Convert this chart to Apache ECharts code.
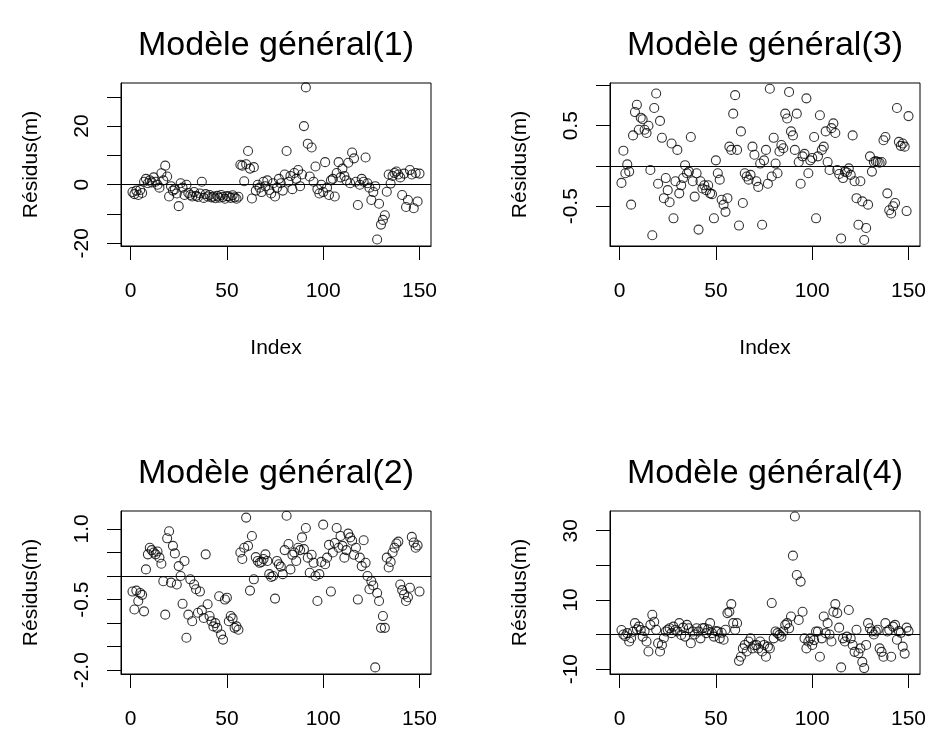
<!DOCTYPE html>
<html>
<head>
<meta charset="utf-8">
<title>Modèle général</title>
<script src="https://cdn.jsdelivr.net/npm/echarts@6/dist/echarts.min.js"></script>
<style>
html, body { margin: 0; padding: 0; background: #fff; }
#main { width: 927px; height: 731px; }
</style>
</head>
<body>
<div id="main"></div>
<script>
// résidus, index 1..150
var residus1 = [
    -2.5, -3.2, -2.0, -3.5, -1.8, -2.8, 1.0, 2.0, 0.5, 1.5,
    0.8, 2.5, 1.0, 0.0, -1.0, 3.9, 1.5, 6.5, 2.8, -4.0,
    -0.5, -2.0, -1.5, -3.0, -7.3, 0.5, -1.0, -3.5, 0.0, -2.8,
    -3.5, -4.0, -2.5, -3.8, -4.2, -3.0, 1.0, -4.5, -3.2, -4.0,
    -3.5, -4.3, -4.0, -4.6, -3.8, -4.4, -3.5, -4.2, -4.8, -3.9,
    -4.0, -4.5, -3.6, -4.3, -4.8, -4.1, 6.8, 6.5, 1.2, 7.0,
    11.5, 5.5, -4.7, 6.0, -2.0, 0.0, -1.0, -2.5, 1.0, -0.5,
    1.5, -1.8, -3.0, 0.5, -4.0, -1.0, 2.0, 0.5, -2.0, 3.5,
    11.5, 1.0, 3.0, -1.5, 4.0, 2.0, 5.0, -0.5, 3.5, 20.0,
    33.2, 14.0, 2.8, 12.7, 1.0, 6.2, -1.5, -3.0, 0.0, -2.5,
    7.7, -1.0, -3.5, 1.5, 2.0, -4.0, 4.0, 7.7, 2.5, 5.5,
    3.0, 1.5, 7.5, 0.5, 11.0, 9.0, 1.0, -6.9, 0.0, 2.0,
    1.0, 9.3, 0.5, -1.0, -5.2, -2.5, -0.5, -18.7, -6.5, -13.6,
    -12.0, -10.4, -2.4, 3.5, 0.4, 3.0, 4.0, 4.5, 3.5, 2.5,
    -3.5, 3.8, -7.6, -5.2, 5.0, 3.5, -8.0, 4.0, -5.7, 3.8
];
var residus2 = [
    -0.33, -0.71, -0.31, -0.53, -0.36, -0.40, -0.75, 0.14, 0.46, 0.60,
    0.55, 0.50, 0.46, 0.52, 0.39, 0.26, -0.11, -0.82, 0.80, 0.95,
    -0.14, 0.64, 0.48, -0.18, 0.21, 0.00, -0.59, 0.32, -1.31, -0.82,
    -0.07, -0.96, -0.18, -0.28, -0.78, -0.33, -0.73, -0.89, 0.46, -0.60,
    -0.85, -0.96, -1.07, -1.00, -1.10, -0.43, -1.24, -1.35, -0.50, -0.46,
    -0.96, -0.85, -0.90, -1.10, -1.07, -1.14, 0.50, 0.36, 0.60, 1.24,
    0.64, -0.31, 0.85, -0.07, 0.40, 0.32, 0.28, 0.30, 0.36, 0.46,
    0.32, 0.04, -0.02, 0.00, -0.48, 0.32, 0.25, 0.20, 0.04, 0.55,
    1.28, 0.68, 0.14, 0.45, 0.50, 0.32, 0.60, 0.55, 0.82, 0.57,
    1.02, 0.39, 0.07, 0.45, 0.28, 0.00, -0.53, 0.04, 0.30, 1.09,
    0.25, 0.39, 0.66, -0.33, 0.50, 0.70, 1.02, 0.60, 0.85, 0.64,
    0.39, 0.55, 0.90, 0.82, 0.75, 0.45, 0.60, -0.50, 0.39, 0.21,
    0.76, 0.28, 0.00, -0.28, -0.11, -0.20, -1.94, -0.36, -0.53, -1.10,
    -0.85, -1.10, 0.39, 0.18, 0.30, 0.50, 0.60, 0.69, 0.73, -0.18,
    -0.30, -0.39, -0.53, -0.45, -0.25, 0.83, 0.71, 0.60, 0.65, -0.33
];
var residus3 = [
    -0.21, 0.19, -0.09, 0.02, -0.07, -0.48, 0.38, 0.67, 0.76, 0.45,
    0.60, 0.58, 0.45, 0.41, 0.50, -0.05, -0.86, 0.72, 0.90, -0.22,
    0.56, 0.35, -0.40, -0.15, -0.30, -0.45, 0.28, -0.65, -0.19, 0.20,
    -0.34, -0.24, -0.15, 0.01, -0.09, -0.07, 0.36, -0.19, -0.38, -0.09,
    -0.79, -0.19, -0.28, -0.24, -0.30, -0.24, -0.34, -0.35, -0.65, 0.07,
    -0.09, -0.17, -0.42, -0.48, -0.57, -0.40, 0.24, 0.20, 0.65, 0.88,
    0.20, -0.74, 0.43, -0.46, -0.09, -0.13, -0.17, -0.11, 0.24, 0.14,
    -0.19, -0.26, 0.03, -0.73, 0.07, 0.20, -0.22, 0.96, -0.13, 0.35,
    0.03, -0.09, 0.18, 0.26, 0.22, 0.65, 0.59, 0.92, 0.43, 0.38,
    0.20, 0.65, 0.05, -0.22, 0.12, 0.15, 0.84, -0.09, 0.07, 0.10,
    0.36, -0.65, 0.12, 0.63, 0.20, 0.24, 0.43, 0.05, -0.05, 0.47,
    0.53, 0.41, -0.05, -0.10, -0.90, -0.15, -0.07, -0.08, -0.03, -0.11,
    0.38, -0.19, -0.40, -0.73, -0.19, -0.44, -0.92, -0.77, -0.48, 0.12,
    -0.07, 0.05, 0.06, 0.05, 0.04, 0.05, 0.32, 0.36, -0.34, -0.55,
    -0.59, -0.50, -0.46, 0.72, 0.30, 0.25, 0.28, 0.24, -0.56, 0.62
];
var residus4 = [
    1.3, 0.0, -0.5, 0.4, -2.0, -1.0, 0.8, 3.3, 1.5, 2.3,
    1.3, -0.6, 1.0, -2.0, -4.9, 2.8, 5.7, 3.7, 1.4, -2.5,
    -4.9, -3.0, -1.0, 0.9, 1.4, 1.8, 0.4, 2.3, 1.4, 0.9,
    3.3, -0.1, 2.0, -0.6, 2.8, 1.8, -2.5, 0.9, 0.0, 1.8,
    0.9, -1.1, 1.8, 1.9, 0.4, 1.5, 3.3, 0.4, -0.6, 1.0,
    0.9, -1.1, 0.5, -1.5, 1.4, 6.2, 6.6, 8.8, 3.3, 1.4,
    3.3, -7.6, -6.4, -4.0, -3.0, -4.9, -2.0, -1.1, -4.0, -3.1,
    -3.0, -4.0, -2.0, -4.9, -3.0, -6.4, -3.5, -4.0, 9.1, -1.1,
    0.9, 0.4, -0.1, -0.6, 0.9, 2.8, 3.3, 1.8, 5.2, 22.8,
    34.1, 17.2, 4.2, 15.3, 6.6, -1.1, -4.0, -2.0, -1.1, -3.0,
    -1.6, 0.9, 0.9, -6.4, -1.1, 5.2, 0.4, 3.3, 0.0, -2.0,
    6.6, 8.8, 6.2, 2.0, -9.5, -1.1, -2.0, -0.6, 7.1, -1.1,
    -3.0, -5.0, 1.4, -5.4, -4.0, -7.9, -9.7, -3.0, 3.3, 1.8,
    0.9, 0.0, 0.9, 1.4, -4.0, -5.0, -6.4, 3.3, 0.9, 1.4,
    -6.4, 2.3, 2.8, -1.5, 1.0, 0.5, -3.5, -5.5, 2.0, 1.0
];

var titres = ['Modèle général(1)', 'Modèle général(3)', 'Modèle général(2)', 'Modèle général(4)'];
var xTicks = [0, 50, 100, 150];
var yTicks1 = [-20, -10, 0, 10, 20, 30];
var yLabels1 = [-20, 0, 20];
var yTicks3 = [-0.5, 0, 0.5, 1.0];
var yLabels3 = [-0.5, 0.5];
var yTicks2 = [-2.0, -1.5, -1.0, -0.5, 0, 0.5, 1.0];
var yLabels2 = [-2.0, -0.5, 1.0];
var yTicks4 = [-10, 0, 10, 20, 30];
var yLabels4 = [-10, 10, 30];

var chart = echarts.init(document.getElementById('main'));
var police = 'Liberation Sans, Arial, sans-serif';

// ordre des panneaux : haut-gauche, haut-droite, bas-gauche, bas-droite
var panneaux = [
    { data: residus1, ticks: yTicks1, labels: yLabels1, min: -20.9, max: 34.7, dec: 0, left: 121, top: 83, index: true },
    { data: residus3, ticks: yTicks3, labels: yLabels3, min: -0.994, max: 1.031, dec: 1, left: 610, top: 83, index: true },
    { data: residus2, ticks: yTicks2, labels: yLabels2, min: -2.08, max: 1.38, dec: 1, left: 121, top: 511, index: false },
    { data: residus4, ticks: yTicks4, labels: yLabels4, min: -11.4, max: 35.7, dec: 0, left: 610, top: 511, index: false }
];

var grids = [], xAxes = [], yAxes = [], series = [], titles = [];

panneaux.forEach(function (p, k) {
    grids.push({
        left: p.left, top: p.top, width: 310, height: 163,
        show: true, borderColor: '#000', borderWidth: 1,
        backgroundColor: 'transparent', outerBoundsMode: 'none'
    });
    titles.push({
        text: titres[k],
        left: p.left + 155, top: p.top - 54,
        textAlign: 'center', textVerticalAlign: 'top', padding: 0,
        textStyle: { fontSize: 34, fontWeight: 'normal', color: '#000', fontFamily: police }
    });
    xAxes.push({
        type: 'value', gridIndex: k, min: -4.96, max: 155.96,
        position: 'bottom',
        axisLine: { show: true, onZero: false, lineStyle: { color: '#000', width: 1 } },
        axisTick: { show: true, inside: false, length: 14, customValues: xTicks, lineStyle: { color: '#000', width: 1 } },
        axisLabel: { customValues: xTicks, margin: 35, color: '#000', fontSize: 21, fontFamily: police },
        splitLine: { show: false },
        name: p.index ? 'Index' : '',
        nameLocation: 'middle', nameGap: 92,
        nameTextStyle: { color: '#000', fontSize: 21, fontFamily: police }
    });
    yAxes.push({
        type: 'value', gridIndex: k, min: p.min, max: p.max,
        position: 'left',
        axisLine: { show: true, onZero: false, lineStyle: { color: '#000', width: 1 } },
        axisTick: { show: true, inside: false, length: 14, customValues: p.ticks, lineStyle: { color: '#000', width: 1 } },
        axisLabel: {
            customValues: p.labels, rotate: 90, margin: 28, color: '#000', fontSize: 21, fontFamily: police,
            formatter: function (v) { return v.toFixed(p.dec); }
        },
        splitLine: { show: false },
        name: 'Résidus(m)', nameLocation: 'middle', nameRotate: 90, nameGap: 79,
        nameTextStyle: { color: '#000', fontSize: 21, fontFamily: police }
    });
    series.push({
        type: 'scatter', xAxisIndex: k, yAxisIndex: k,
        data: p.data.map(function (v, i) { return [i + 1, v]; }),
        symbol: 'circle', symbolSize: 9,
        itemStyle: { color: 'rgba(0,0,0,0)', borderColor: '#000', borderWidth: 1.1 },
        emphasis: { disabled: true },
        markLine: {
            silent: true, symbol: 'none',
            label: { show: false },
            lineStyle: { color: '#000', width: 1, type: 'solid' },
            data: [{ yAxis: 0 }]
        }
    });
});

chart.setOption({
    backgroundColor: '#fff',
    animation: false,
    title: titles,
    grid: grids,
    xAxis: xAxes,
    yAxis: yAxes,
    series: series
});
</script>
</body>
</html>
